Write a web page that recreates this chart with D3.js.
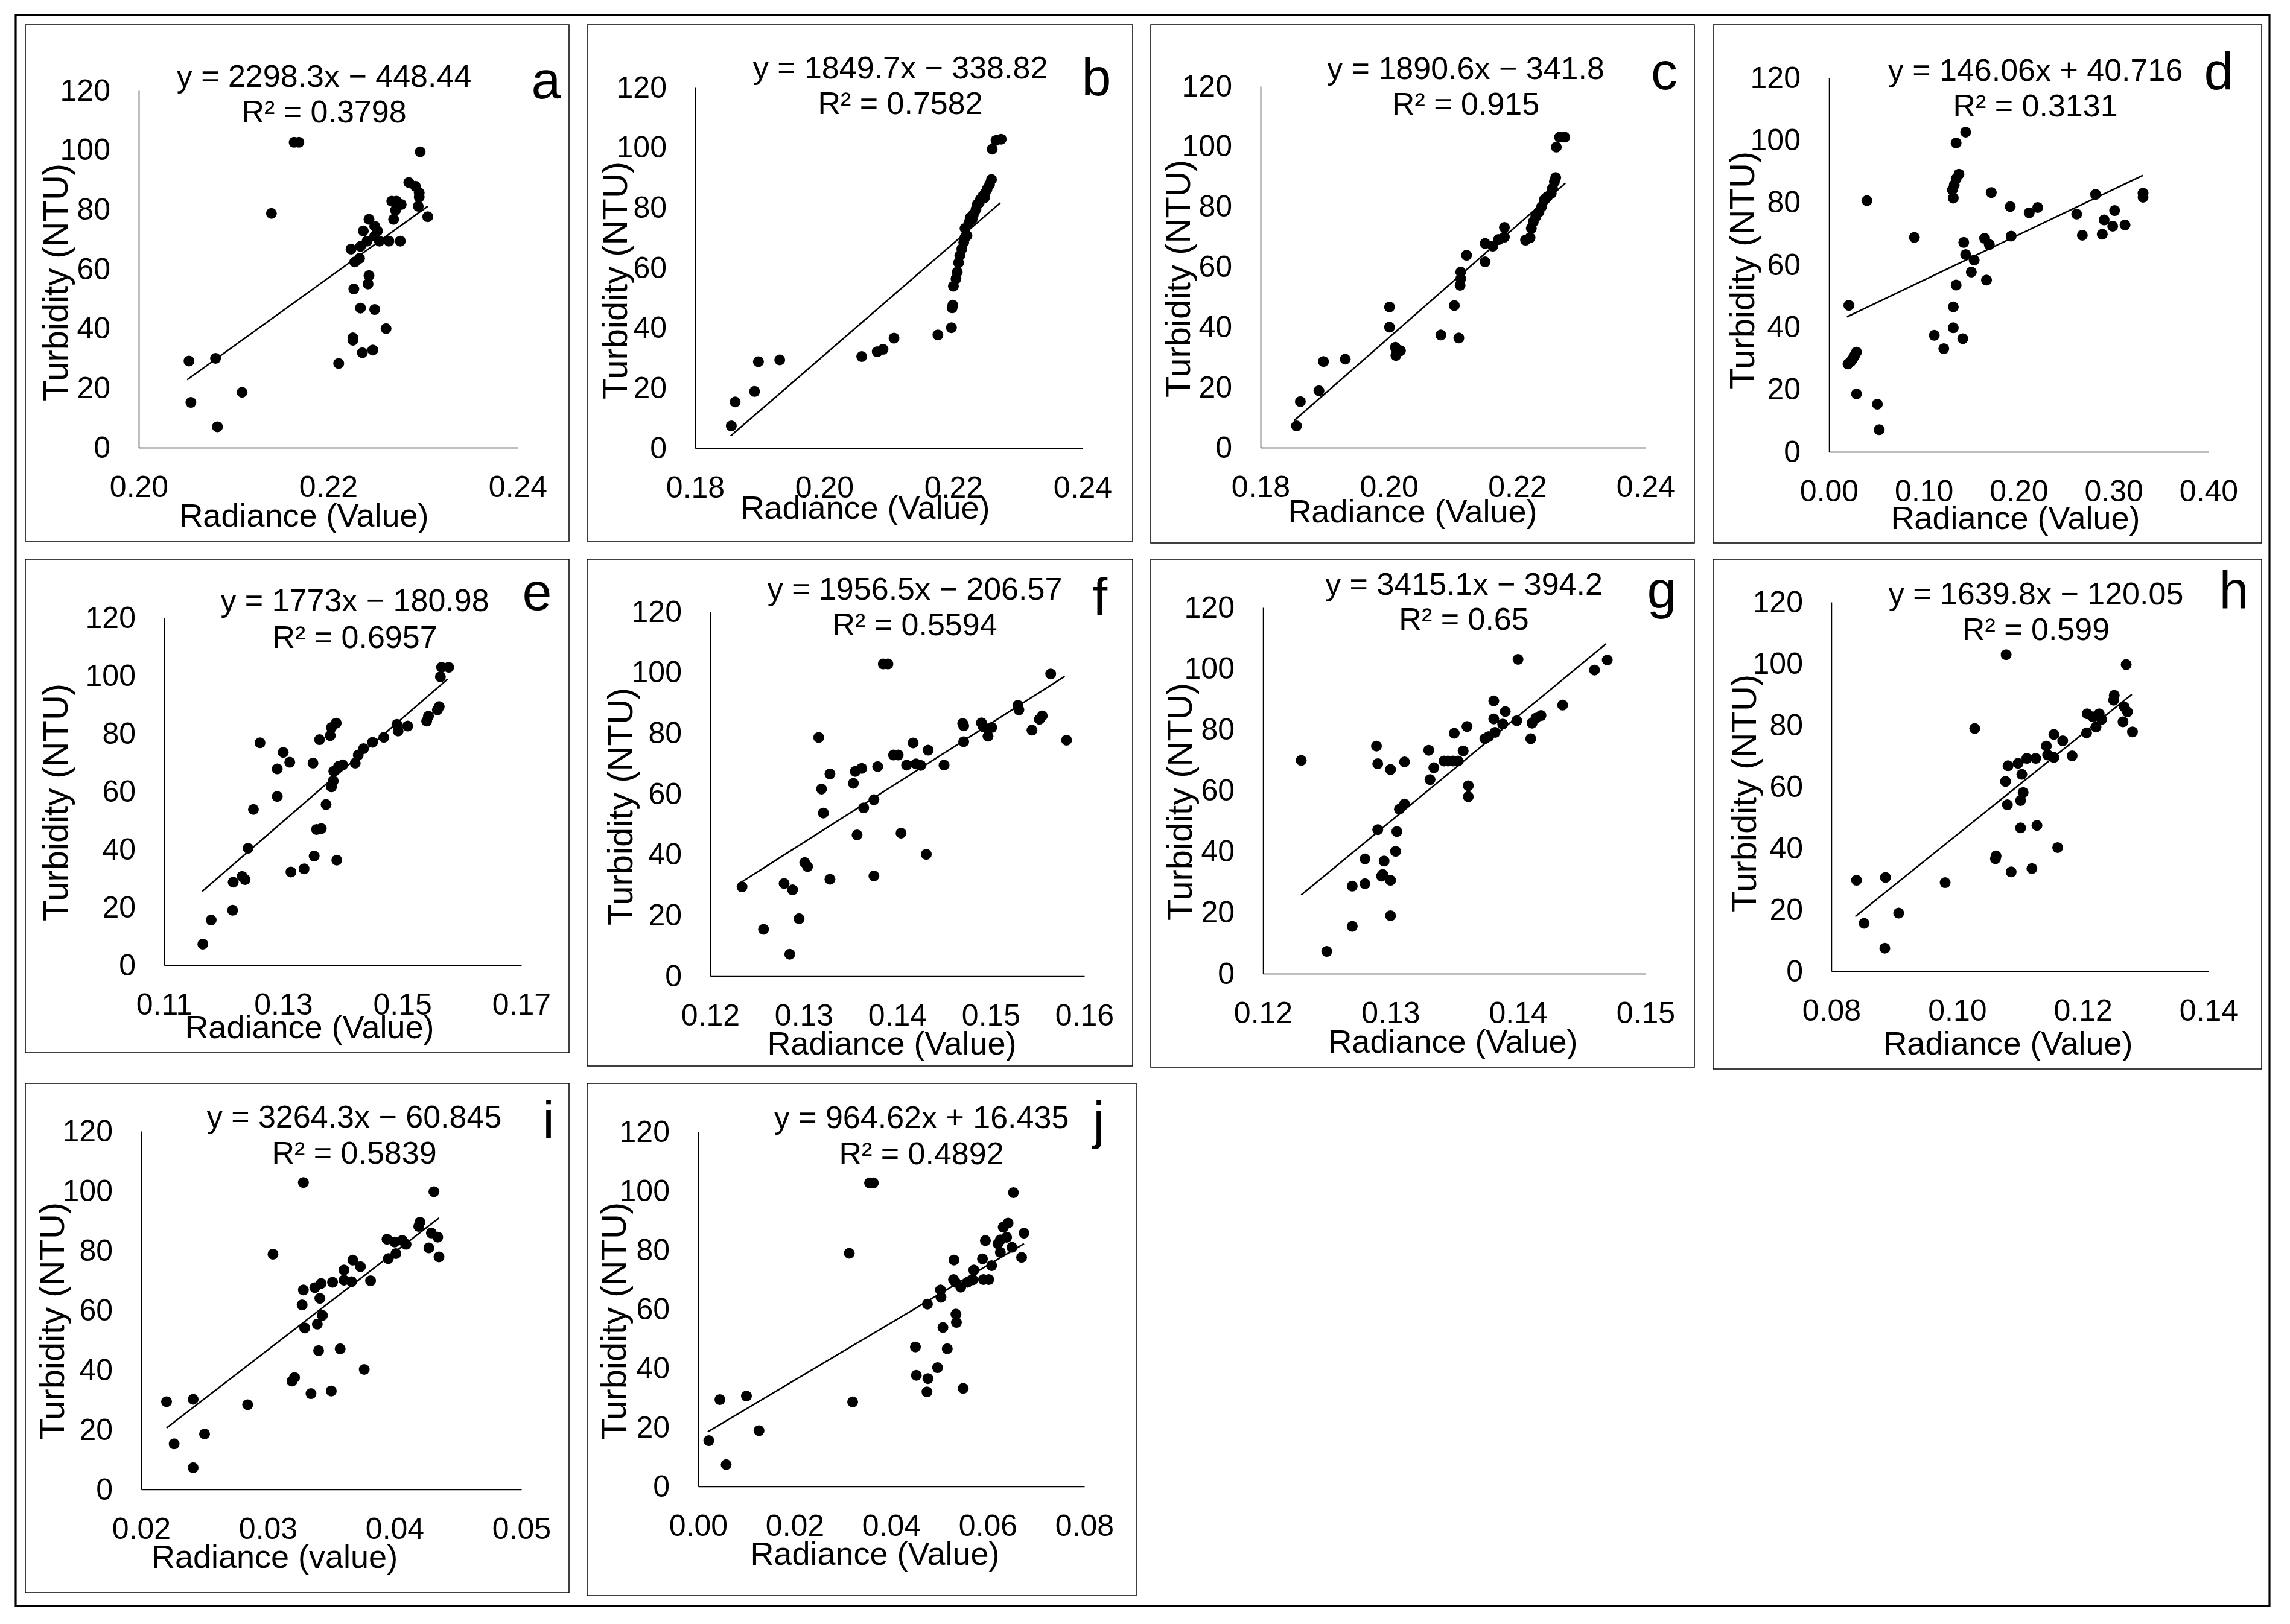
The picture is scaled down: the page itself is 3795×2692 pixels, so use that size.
<!DOCTYPE html>
<html>
<head>
<meta charset="utf-8">
<script src="https://cdn.jsdelivr.net/npm/d3@7"></script>
<style>
html,body{margin:0;padding:0;background:#fff;}
svg{display:block;}
text{font-family:"Liberation Sans",Arial,Helvetica,sans-serif;fill:#000;}
</style>
</head>
<body>
<script>
// ---------------- DATA ----------------
const panelIds = ["a","b","c","d","e","f","g","h","i","j"];
const equations = [
  "y = 2298.3x − 448.44","y = 1849.7x − 338.82","y = 1890.6x − 341.8","y = 146.06x + 40.716",
  "y = 1773x − 180.98","y = 1956.5x − 206.57","y = 3415.1x − 394.2","y = 1639.8x − 120.05",
  "y = 3264.3x − 60.845","y = 964.62x + 16.435"];
const r2Labels = ["R² = 0.3798","R² = 0.7582","R² = 0.915","R² = 0.3131","R² = 0.6957",
  "R² = 0.5594","R² = 0.65","R² = 0.599","R² = 0.5839","R² = 0.4892"];
const xTitles = ["Radiance (Value)","Radiance (Value)","Radiance (Value)","Radiance (Value)",
  "Radiance (Value)","Radiance (Value)","Radiance (Value)","Radiance (Value)",
  "Radiance (value)","Radiance (Value)"];
const yTitle = "Turbidity (NTU)";
const xTickValues = [
  [0.20,0.22,0.24],[0.18,0.20,0.22,0.24],[0.18,0.20,0.22,0.24],[0.00,0.10,0.20,0.30,0.40],
  [0.11,0.13,0.15,0.17],[0.12,0.13,0.14,0.15,0.16],[0.12,0.13,0.14,0.15],[0.08,0.10,0.12,0.14],
  [0.02,0.03,0.04,0.05],[0.00,0.02,0.04,0.06,0.08]];
const xTickLabels = [
  ["0.20","0.22","0.24"],["0.18","0.20","0.22","0.24"],["0.18","0.20","0.22","0.24"],["0.00","0.10","0.20","0.30","0.40"],
  ["0.11","0.13","0.15","0.17"],["0.12","0.13","0.14","0.15","0.16"],["0.12","0.13","0.14","0.15"],["0.08","0.10","0.12","0.14"],
  ["0.02","0.03","0.04","0.05"],["0.00","0.02","0.04","0.06","0.08"]];
const yTickValues = [0,20,40,60,80,100,120];
const yTickLabels = ["0","20","40","60","80","100","120"];

const radianceA = [0.2053,0.2055,0.2081,0.2083,0.2109,0.2140,0.2164,0.2169,0.2211,0.2224,0.2228,0.2233,0.2227,0.2234,0.2226,0.2226,0.2236,0.2247,0.2243,0.2242,0.2249,0.2261,0.2234,0.2237,0.2243,0.2241,0.2249,0.2252,0.2254,0.2264,0.2276,0.2267,0.2272,0.2277,0.2269,0.2271,0.2285,0.2292,0.2296,0.2295,0.2305,0.2297,0.2296,0.2249];
const turbidityA = [29.1,15.2,30.0,7.0,18.6,78.7,102.6,102.6,28.3,66.7,62.4,63.6,53.3,46.9,36.9,36.1,31.9,32.8,57.8,55.0,46.4,40.0,67.6,72.8,76.7,69.4,71.1,72.8,69.4,69.4,69.4,82.8,82.8,81.7,76.7,79.8,89.1,87.8,85.6,81.1,77.6,99.4,84.2,74.4];

const radianceB = [0.1856,0.1862,0.1892,0.1898,0.1931,0.2058,0.2082,0.2091,0.2108,0.2176,0.2197,0.2198,0.2199,0.2200,0.2204,0.2206,0.2208,0.2210,0.2213,0.2216,0.2218,0.2221,0.2218,0.2224,0.2226,0.2231,0.2235,0.2237,0.2242,0.2245,0.2249,0.2252,0.2256,0.2259,0.2260,0.2266,0.2274,0.2240,0.2248,0.2229];
const turbidityB = [7.4,15.4,18.9,28.8,29.4,30.5,32.1,32.9,36.6,37.7,40.1,46.7,47.6,53.9,56.4,58.6,61.7,64.1,66.3,68.5,70.1,70.7,73.1,75.1,76.7,77.8,79.5,81.1,82.8,83.7,84.8,86.1,87.7,89.4,99.5,102.4,102.8,81.7,83.3,76.2];

const radianceC = [0.1856,0.1862,0.1891,0.1898,0.1932,0.2001,0.2001,0.2010,0.2011,0.2018,0.2081,0.2102,0.2109,0.2111,0.2112,0.2112,0.2121,0.2150,0.2150,0.2162,0.2171,0.2180,0.2180,0.2213,0.2220,0.2222,0.2225,0.2229,0.2234,0.2238,0.2242,0.2247,0.2253,0.2255,0.2258,0.2260,0.2261,0.2266,0.2274,0.2245];
const turbidityC = [7.2,15.3,18.9,28.6,29.4,46.7,40.0,33.3,30.6,32.2,37.4,47.2,36.4,53.9,56.1,58.3,63.9,61.7,67.8,66.9,69.1,73.1,69.9,68.9,69.7,72.8,75.0,76.7,78.3,80.0,82.2,83.3,84.4,86.1,88.3,89.7,99.8,103.1,103.1,82.8];

const radianceD = [0.021,0.020,0.023,0.025,0.027,0.029,0.029,0.040,0.051,0.053,0.090,0.111,0.121,0.131,0.131,0.134,0.141,0.142,0.144,0.150,0.153,0.166,0.164,0.169,0.192,0.171,0.131,0.130,0.132,0.134,0.137,0.134,0.144,0.191,0.211,0.220,0.261,0.267,0.281,0.288,0.290,0.301,0.299,0.312,0.331,0.331];
const turbidityD = [47.0,28.2,29.0,29.8,30.9,32.0,18.6,80.6,15.3,7.1,68.8,37.4,33.1,39.8,46.5,53.5,36.3,67.2,63.3,57.7,61.5,55.1,68.5,66.5,69.2,83.2,81.4,84.0,85.6,87.6,89.1,99.1,102.6,78.7,76.7,78.4,76.3,69.5,82.6,69.8,74.4,77.4,72.4,72.8,83.0,81.7];

const radianceE = [0.1165,0.1179,0.1215,0.1216,0.1231,0.1236,0.1241,0.1250,0.1261,0.1290,0.1290,0.1300,0.1311,0.1313,0.1335,0.1350,0.1352,0.1356,0.1364,0.1361,0.1372,0.1379,0.1381,0.1389,0.1381,0.1384,0.1385,0.1390,0.1393,0.1400,0.1421,0.1426,0.1435,0.1450,0.1469,0.1491,0.1493,0.1509,0.1541,0.1544,0.1559,0.1562,0.1564,0.1566,0.1578];
const turbidityE = [7.3,15.6,19.0,28.7,30.7,29.6,40.4,53.8,76.8,58.3,67.8,73.5,70.1,32.2,33.3,69.8,37.7,46.9,47.2,77.9,55.5,79.3,82.1,83.6,61.6,63.6,67.0,36.3,68.7,69.2,69.8,72.6,74.8,77.0,78.7,83.2,80.9,82.6,84.3,86.0,88.2,89.3,99.6,102.9,102.9];

const radianceF = [0.1234,0.1257,0.1279,0.1288,0.1285,0.1295,0.1301,0.1304,0.1316,0.1319,0.1321,0.1328,0.1328,0.1353,0.1355,0.1362,0.1357,0.1364,0.1375,0.1375,0.1379,0.1385,0.1390,0.1396,0.1401,0.1404,0.1410,0.1417,0.1420,0.1425,0.1431,0.1433,0.1450,0.1471,0.1470,0.1471,0.1490,0.1492,0.1497,0.1501,0.1529,0.1530,0.1544,0.1552,0.1555,0.1564,0.1581];
const turbidityF = [29.4,15.4,30.5,28.4,7.2,18.9,37.4,36.1,78.6,61.6,53.7,66.6,31.9,63.5,67.4,68.4,46.5,55.4,58.1,33.0,69.0,102.8,102.8,72.8,72.8,47.1,69.5,76.8,69.9,69.4,40.1,74.4,69.5,77.2,83.2,82.4,83.4,82.1,79.0,81.9,89.2,87.7,81.0,84.6,85.7,99.5,77.7];

const radianceG = [0.1230,0.1250,0.1270,0.1270,0.1280,0.1280,0.1289,0.1290,0.1290,0.1295,0.1294,0.1293,0.1300,0.1300,0.1300,0.1304,0.1305,0.1307,0.1311,0.1311,0.1330,0.1331,0.1334,0.1342,0.1345,0.1349,0.1353,0.1350,0.1357,0.1360,0.1361,0.1361,0.1374,0.1377,0.1382,0.1381,0.1381,0.1388,0.1390,0.1399,0.1400,0.1410,0.1411,0.1414,0.1418,0.1435,0.1460,0.1470];
const turbidityG = [69.9,7.3,15.5,28.7,37.6,29.5,74.6,68.8,47.2,36.9,32.5,32.0,30.6,19.0,66.9,40.1,46.6,53.9,55.6,69.4,73.2,63.6,67.5,69.7,69.7,69.7,69.7,78.8,73.0,81.0,61.6,58.0,77.0,77.7,79.1,89.4,83.5,81.8,85.9,82.9,103.0,77.0,82.1,83.7,84.6,88.0,99.5,102.8];

const radianceH = [0.0840,0.0852,0.0886,0.0885,0.0907,0.0981,0.1028,0.1061,0.1062,0.1077,0.1080,0.1081,0.1078,0.1086,0.1097,0.1103,0.1105,0.1101,0.1101,0.1111,0.1119,0.1125,0.1127,0.1142,0.1144,0.1154,0.1154,0.1160,0.1168,0.1183,0.1206,0.1207,0.1216,0.1221,0.1226,0.1230,0.1250,0.1249,0.1264,0.1266,0.1271,0.1269,0.1279];
const turbidityH = [29.6,15.6,30.5,7.5,18.9,28.8,78.9,36.6,37.5,61.7,54.1,66.8,102.9,32.3,67.6,64.0,58.1,55.5,46.6,69.2,33.4,69.2,47.4,73.2,70.3,69.5,77.0,40.2,74.9,70.0,77.5,83.7,82.7,79.4,83.7,81.9,89.7,88.1,81.1,85.9,84.3,99.7,77.8];

const radianceI = [0.0220,0.0226,0.0241,0.0241,0.0250,0.0284,0.0304,0.0319,0.0321,0.0327,0.0328,0.0329,0.0328,0.0334,0.0337,0.0341,0.0342,0.0343,0.0339,0.0340,0.0351,0.0350,0.0357,0.0360,0.0360,0.0366,0.0367,0.0373,0.0376,0.0381,0.0395,0.0394,0.0400,0.0401,0.0406,0.0409,0.0420,0.0419,0.0427,0.0429,0.0434,0.0431,0.0435];
const turbidityI = [29.4,15.3,30.2,7.3,18.6,28.4,78.8,36.3,37.5,61.8,66.8,54.1,102.8,32.1,67.6,64.0,69.0,58.3,55.4,46.5,69.4,33.0,47.1,73.5,70.1,69.6,76.8,74.6,40.2,69.9,77.3,83.8,82.9,79.0,83.4,82.1,89.5,88.1,80.9,85.9,84.5,99.7,77.9];

const radianceJ = [0.0022,0.0045,0.0058,0.0100,0.0126,0.0313,0.0320,0.0355,0.0363,0.0450,0.0452,0.0474,0.0476,0.0475,0.0496,0.0502,0.0503,0.0507,0.0516,0.0530,0.0529,0.0533,0.0534,0.0535,0.0544,0.0549,0.0558,0.0569,0.0571,0.0589,0.0591,0.0602,0.0595,0.0608,0.0621,0.0626,0.0626,0.0632,0.0639,0.0642,0.0650,0.0653,0.0670,0.0675];
const turbidityJ = [15.5,29.4,7.4,30.6,18.9,78.9,28.6,102.7,102.7,47.2,37.6,32.0,36.5,61.7,40.2,66.5,64.0,53.8,46.6,76.6,70.0,69.1,58.3,55.5,67.4,33.2,69.1,69.9,73.2,77.0,70.0,70.0,83.2,74.7,82.1,83.4,79.2,87.7,84.3,89.1,80.9,99.4,77.5,85.7];

// trendline end points: [x1, y1, x2, y2]
const trendLines = [
  [0.2051,22.8,0.2305,81.1],[0.1855,4.1,0.2273,81.7],[0.1852,8.9,0.2275,87.8],[0.019,43.3,0.3307,88.7],
  [0.1164,25.5,0.1576,98.8],[0.1231,30.5,0.1579,98.7],[0.1230,25.8,0.1469,108.1],[0.0838,17.8,0.1278,90.0],
  [0.0220,20.6,0.0435,90.9],[0.0020,18.5,0.0675,82.1]];

const radiance = [radianceA,radianceB,radianceC,radianceD,radianceE,radianceF,radianceG,radianceH,radianceI,radianceJ];
const turbidity = [turbidityA,turbidityB,turbidityC,turbidityD,turbidityE,turbidityF,turbidityG,turbidityH,turbidityI,turbidityJ];

// ---------------- LAYOUT (pixels) ----------------
const W = 3795, H = 2692;
const layout = [
  {box:[42,41,943,897],   plot:[230,858,150,742],   eq:[537,125],  r2y:184,  let:[905,163],  yt:[95,468],   xt:[504,857]},
  {box:[973,41,1877,897], plot:[1152,1794,145,743], eq:[1492,111], r2y:170,  let:[1817,158], yt:[1022,465], xt:[1434,844]},
  {box:[1907,41,2808,900],plot:[2089,2727,143,742], eq:[2429,112], r2y:171,  let:[2758,148], yt:[1955,462], xt:[2341,850]},
  {box:[2839,41,3748,900],plot:[3031,3660,129,749], eq:[3373,115], r2y:174,  let:[3677,148], yt:[2890,448], xt:[3340,861]},
  {box:[42,927,943,1745], plot:[272,864,1024,1600], eq:[588,994],  r2y:1055, let:[890,1011], yt:[95,1330],  xt:[513,1705]},
  {box:[973,927,1877,1767],plot:[1177,1797,1014,1618],eq:[1516,975],r2y:1034,let:[1823,1019],yt:[1031,1337],xt:[1478,1732]},
  {box:[1907,927,2808,1769],plot:[2093,2727,1007,1614],eq:[2426,967],r2y:1025,let:[2754,1008],yt:[1958,1329],xt:[2408,1729]},
  {box:[2839,927,3748,1772],plot:[3035,3660,998,1610],eq:[3374,983],r2y:1042,let:[3702,1008],yt:[2893,1315],xt:[3328,1732]},
  {box:[42,1796,943,2640],plot:[234,864,1875,2469], eq:[587,1850], r2y:1910, let:[909,1886], yt:[89,2190],  xt:[455,2583]},
  {box:[973,1796,1883,2645],plot:[1157,1797,1876,2464],eq:[1527,1851],r2y:1911,let:[1821,1887],yt:[1020,2190],xt:[1450,2578]}
];

const svg = d3.select("body").append("svg").attr("width", W).attr("height", H);
svg.append("rect").attr("width", W).attr("height", H).attr("fill", "#fff");
// outer frame
svg.append("rect").attr("x",26).attr("y",25).attr("width",3761-26).attr("height",2662-25)
  .attr("fill","none").attr("stroke","#000").attr("stroke-width",3.2);

panelIds.forEach((id, i) => {
  const L = layout[i];
  const g = svg.append("g").attr("class", "panel-" + id);
  g.append("rect").attr("x", L.box[0]).attr("y", L.box[1])
    .attr("width", L.box[2]-L.box[0]).attr("height", L.box[3]-L.box[1])
    .attr("fill","none").attr("stroke","#000").attr("stroke-width",1.5);

  const xd = xTickValues[i];
  const x = d3.scaleLinear().domain([xd[0], xd[xd.length-1]]).range([L.plot[0], L.plot[1]]);
  const y = d3.scaleLinear().domain([0,120]).range([L.plot[3], L.plot[2]]);

  const xAxis = d3.axisBottom(x).tickValues(xd).tickSize(0).tickSizeOuter(0).tickPadding(46)
    .tickFormat((d, k) => xTickLabels[i][k]);
  const yAxis = d3.axisLeft(y).tickValues(yTickValues).tickSize(0).tickSizeOuter(0).tickPadding(47)
    .tickFormat((d, k) => yTickLabels[k]);

  const gx = g.append("g").attr("transform", `translate(0,${L.plot[3]})`).call(xAxis);
  const gy = g.append("g").attr("transform", `translate(${L.plot[0]},0)`).call(yAxis);
  [gx, gy].forEach(a => {
    a.select(".domain").attr("stroke","#000").attr("stroke-width",1.5);
    a.selectAll("text").attr("font-size",50).attr("fill","#000")
      .attr("font-family",'"Liberation Sans",Arial,sans-serif');
  });

  // trendline
  const t = trendLines[i];
  g.append("line").attr("x1", x(t[0])).attr("y1", y(t[1])).attr("x2", x(t[2])).attr("y2", y(t[3]))
    .attr("stroke","#000").attr("stroke-width",2.6);

  // points
  const pts = radiance[i].map((v, k) => [v, turbidity[i][k]]);
  g.append("g").selectAll("circle").data(pts).join("circle")
    .attr("cx", d => x(d[0])).attr("cy", d => y(d[1])).attr("r", 9).attr("fill","#000");

  // equation + R2
  g.append("text").attr("x", L.eq[0]).attr("y", L.eq[1]).attr("dy","0.36em")
    .attr("text-anchor","middle").attr("font-size",52).text(equations[i]);
  g.append("text").attr("x", L.eq[0]).attr("y", L.r2y).attr("dy","0.36em")
    .attr("text-anchor","middle").attr("font-size",52).text(r2Labels[i]);

  // panel letter
  g.append("text").attr("x", L.let[0]).attr("y", L.let[1])
    .attr("text-anchor","middle").attr("font-size",88).text(id);

  // axis titles
  g.append("text").attr("x", L.xt[0]).attr("y", L.xt[1]).attr("dy","0.3em")
    .attr("text-anchor","middle").attr("font-size",54).text(xTitles[i]);
  g.append("text").attr("transform", `translate(${L.yt[0]},${L.yt[1]}) rotate(-90)`).attr("dy","0.3em")
    .attr("text-anchor","middle").attr("font-size",58).text(yTitle);
});
</script>
</body>
</html>
